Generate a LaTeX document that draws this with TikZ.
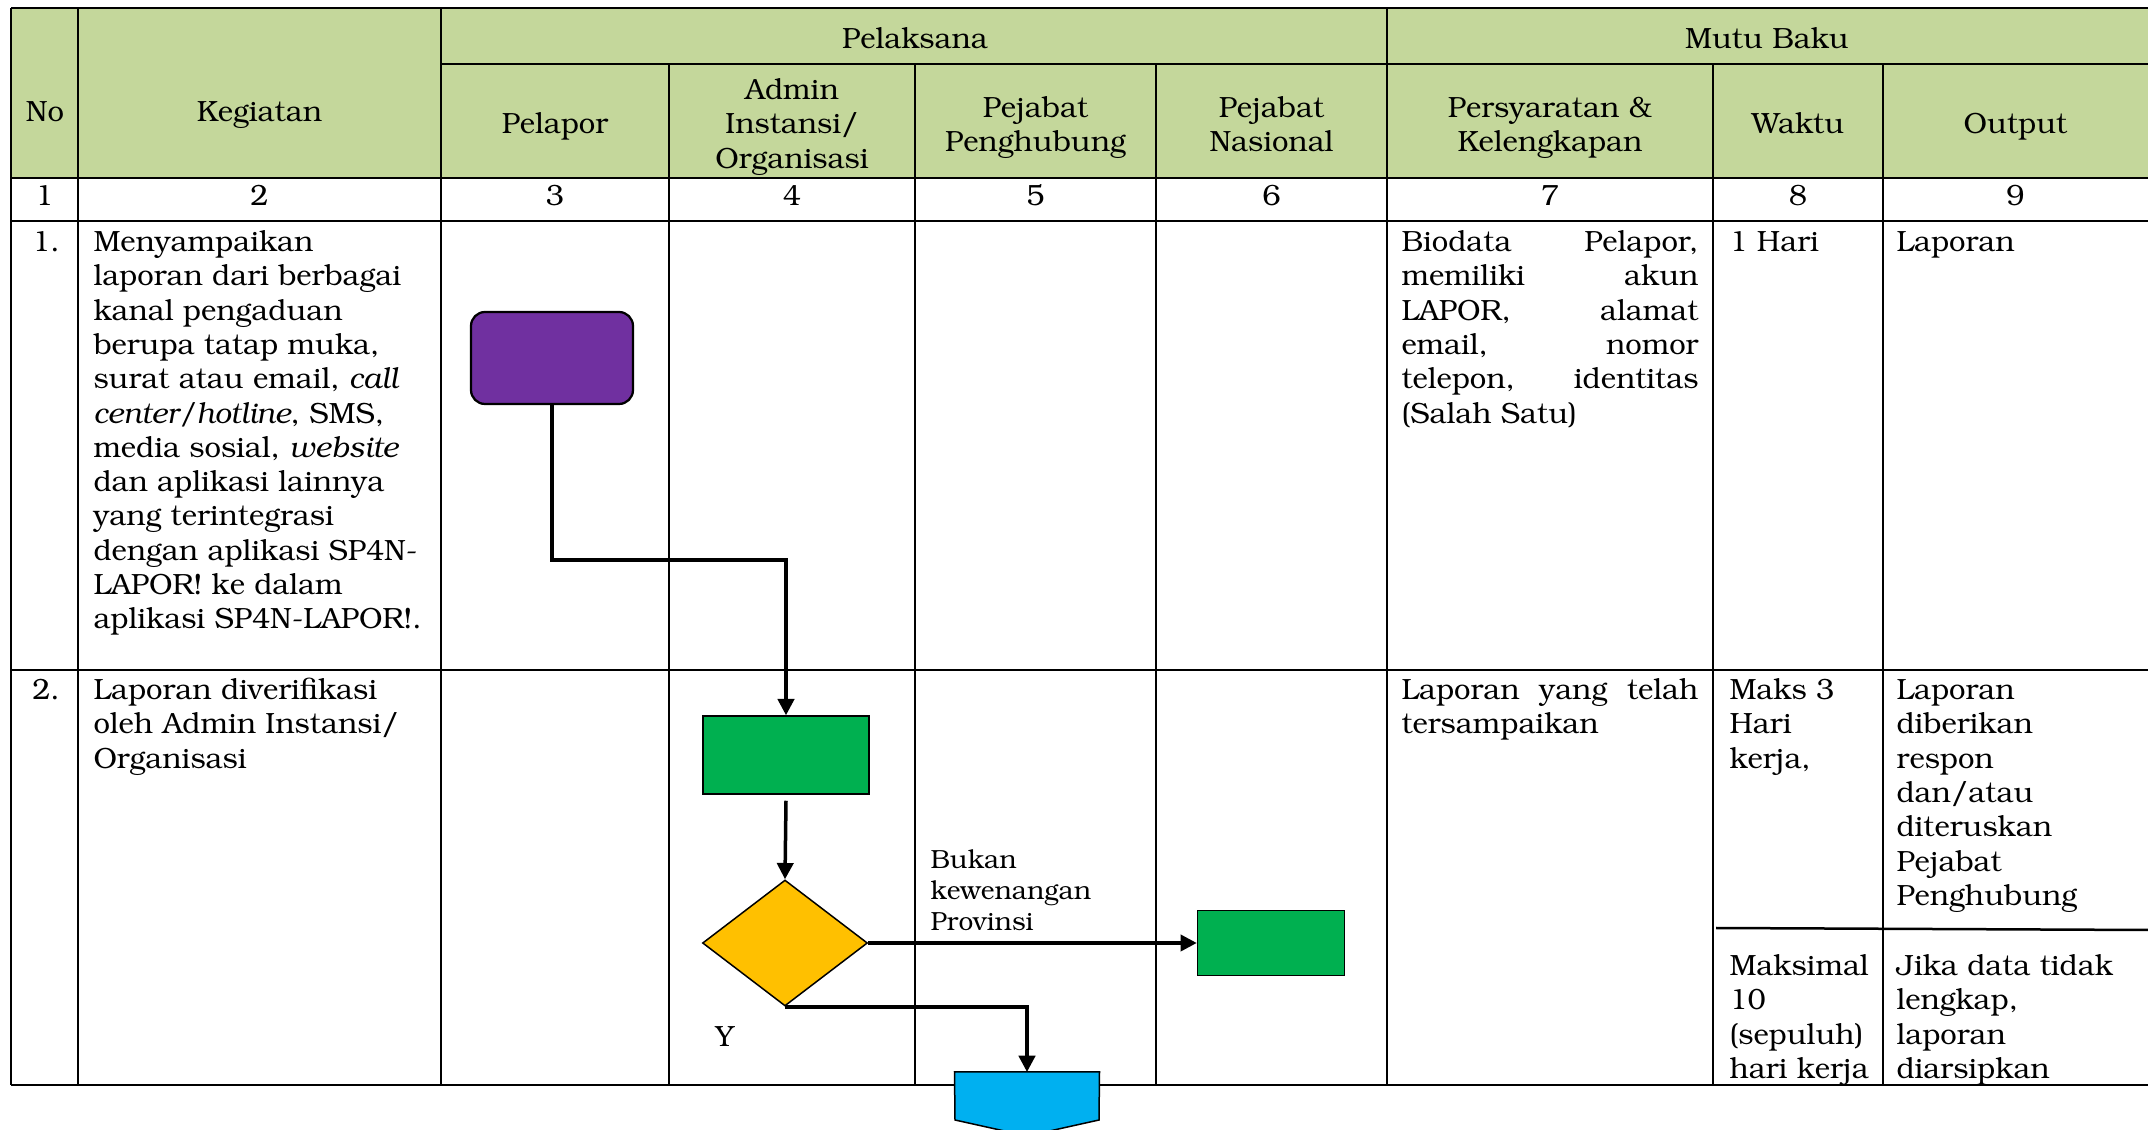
\documentclass[tikz,border=0pt]{standalone}
\usepackage[T1]{fontenc}
\usepackage{bookman}
\usetikzlibrary{arrows.meta,shapes.geometric}
\definecolor{hdrgreen}{HTML}{C4D79B}
\definecolor{procpurple}{HTML}{7030A0}
\definecolor{procgreen}{HTML}{00B050}
\definecolor{decyellow}{HTML}{FFC000}
\definecolor{offblue}{HTML}{00B0F0}
\newcommand\bodyfont{\fontsize{11.7}{13.72}\selectfont}
\newcommand\lblfont{\fontsize{10.5}{12.4}\selectfont}
\newcommand\jline[1]{\hbox to 118.8pt{#1}}
\begin{document}
\begin{tikzpicture}[x=0.4pt,y=-0.4pt,
  txt/.style={inner sep=0pt, font=\bodyfont, align=left, anchor=north west},
  ctxt/.style={inner sep=0pt, font=\bodyfont, align=center, anchor=north},
  lbl/.style={inner sep=0pt, font=\lblfont, align=left, anchor=north west},
  hline/.style={line width=1pt},
  vline/.style={line width=0.85pt},
  conn/.style={line width=1.4pt, -{Triangle[length=6.5pt,width=6.5pt]}},
  shapeline/.style={draw=black, line width=0.6pt, inner sep=0pt}
]
\useasboundingbox (0,0) rectangle (2148,1130);
\fill[white] (0,0) rectangle (2148,1130);
% header fill
\fill[hdrgreen] (11,8) rectangle (2148,178);
% table lines
\foreach \yy in {8,178,221,670,1085} \draw[hline] (11,\yy) -- (2148,\yy);
\draw[hline] (441,64) -- (2148,64);
\foreach \xx in {11,78,441,1387} \draw[vline] (\xx,8) -- (\xx,1085);
\foreach \xx in {669,915,1156,1713,1883} \draw[vline] (\xx,64) -- (\xx,1085);
\draw[hline] (1716,928) -- (2148,930);

% header texts
\node[ctxt] (hpel) at (915,24) {\strut Pelaksana};
\node[ctxt] (hmutu) at (1767,24) {\strut Mutu Baku};
\node[ctxt] (hno) at (45,97) {\strut No};
\node[ctxt] (hkeg) at (259.5,97) {\strut Kegiatan};
\node[ctxt] (hpelapor) at (555,109) {\strut Pelapor};
\node[ctxt] (hadmin) at (792,75) {\strut Admin\\Instansi/\\Organisasi};
\node[ctxt] (hpph) at (1035.5,93) {\strut Pejabat\\Penghubung};
\node[ctxt] (hpnas) at (1271.5,93) {\strut Pejabat\\Nasional};
\node[ctxt] (hsyarat) at (1550,93) {\strut Persyaratan \&\\Kelengkapan};
\node[ctxt] (hwaktu) at (1798,109) {\strut Waktu};
\node[ctxt] (houtput) at (2015.5,109) {\strut Output};

% number row
\node[ctxt] (n1) at (44.5,181) {\strut 1};
\node[ctxt] (n2) at (259.5,181) {\strut 2};
\node[ctxt] (n3) at (555,181) {\strut 3};
\node[ctxt] (n4) at (792,181) {\strut 4};
\node[ctxt] (n5) at (1035.5,181) {\strut 5};
\node[ctxt] (n6) at (1271.5,181) {\strut 6};
\node[ctxt] (n7) at (1550,181) {\strut 7};
\node[ctxt] (n8) at (1798,181) {\strut 8};
\node[ctxt] (n9) at (2015.5,181) {\strut 9};

% row 1
\node[ctxt] (r1no) at (46,227) {\strut 1.};
\node[txt] (r1keg) at (93,227) {\strut Menyampaikan\\laporan dari berbagai\\kanal pengaduan\\berupa tatap muka,\\surat atau email, \textit{call}\\\textit{center/hotline}, SMS,\\media sosial, \textit{website}\\dan aplikasi lainnya\\yang terintegrasi\\dengan aplikasi SP4N-\\LAPOR! ke dalam\\aplikasi SP4N-LAPOR!.};
\node[txt] (r1syarat) at (1401,227) {\strut\jline{Biodata\hfill Pelapor,}\\\jline{memiliki\hfill akun}\\\jline{LAPOR,\hfill alamat}\\\jline{email,\hfill nomor}\\\jline{telepon,\hfill identitas}\\(Salah Satu)};
\node[txt] (r1waktu) at (1729,227) {\strut 1 Hari};
\node[txt] (r1out) at (1896,227) {\strut Laporan};

% row 2
\node[ctxt] (r2no) at (46,675) {\strut 2.};
\node[txt] (r2keg) at (93,675) {\strut Laporan diverifikasi\\oleh Admin Instansi/\\Organisasi};
\node[txt] (r2syarat) at (1401,675) {\strut\jline{Laporan\hfill yang\hfill telah}\\tersampaikan};
\node[txt] (r2waktu) at (1729,675) {\strut Maks 3\\Hari\\kerja,};
\node[txt] (r2out) at (1896,675) {\strut Laporan\\diberikan\\respon\\dan/atau\\diteruskan\\Pejabat\\Penghubung};
\node[txt] (r2waktub) at (1729,951) {\strut Maksimal\\10\\(sepuluh)\\hari kerja};
\node[txt] (r2outb) at (1896,951) {\strut Jika data tidak\\lengkap,\\laporan\\diarsipkan};

% flowchart shapes
\node[shapeline, line width=0.9pt, fill=procpurple, rounded corners=5.6pt,
      minimum width=64.8pt, minimum height=36.8pt] (pur) at (552,358) {};
\node[shapeline, fill=procgreen, minimum width=66.4pt, minimum height=31.2pt] (g1) at (786,755) {};
\node[shapeline, fill=decyellow, diamond, minimum width=66pt, minimum height=50.4pt] (dia) at (785,943) {};
\node[shapeline, fill=procgreen, minimum width=58.8pt, minimum height=26pt] (g2) at (1271,943) {};
\node[inner sep=0pt, minimum width=57.6pt, minimum height=25.6pt, anchor=north] (off) at (1027,1072) {};
\filldraw[fill=offblue, draw=black, line width=0.6pt]
  (off.north west) -- (off.north east) -- (1099,1120) -- (1027,1136) -- (955,1120) -- cycle;

% connectors
\coordinate (bend1) at (786,560);
\draw[conn] (pur.south) |- (bend1) -- (g1.north);
\draw[conn] ([yshift=-2.4pt]g1.south) -- (dia.north);
\draw[conn] (dia.east) -- (g2.west);
\draw[conn] (dia.south) -| (off.north);

% labels
\node[lbl] (lbuk) at (930,846) {\strut Bukan\\kewenangan\\Provinsi};
\node[ctxt] (ly) at (725,1022) {\strut Y};
\end{tikzpicture}
\end{document}
